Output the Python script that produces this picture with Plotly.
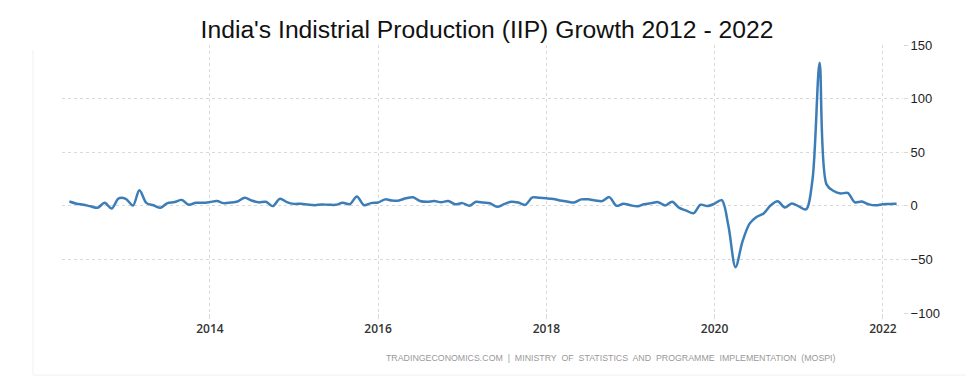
import plotly.graph_objects as go
import pandas as pd

start_month = "2012-05-01"
growth = [
    4.0, 2.0, 1.0, -0.5, -1.8, 2.8, -2.5, 7.0, 6.5, 0.3, 14.5, 2.5,      # May12-Apr13
    0.5, -1.8, 2.5, 3.5, 5.5, 1.0, 2.8, 2.8, 3.5, 4.4, 2.5, 3.0,        # May13-Apr14
    4.0, 7.5, 5.0, 3.2, 3.8, -0.3, 6.6, 3.5, 1.8, 1.9, 1.2, 0.6,        # May14-Apr15
    1.2, 1.0, 0.9, 2.8, 1.5, 8.7, 0.5, 2.5, 3.1, 6.0, 5.0, 5.0,         # May15-Apr16
    7.0, 8.0, 4.5, 3.7, 4.4, 3.4, 4.4, 1.4, 2.5, 0.0, 3.7, 3.0,         # May16-Apr17
    2.4, -1.0, 1.5, 3.8, 3.0, 0.9, 7.8, 7.5, 7.0, 6.3, 5.0, 4.0,        # May17-Apr18
    3.1, 6.0, 6.0, 5.0, 4.4, 8.1, 0.0, 2.0, 0.5, -0.5, 1.5, 2.5,        # May18-Apr19
    3.4, 0.3, 3.8, -2.0, -4.5, -7.0, 1.0, -0.3, 2.0, 5.2, -18.7, -57.3, # May19-Apr20
    -33.4, -16.6, -10.5, -7.1, 0.5, 4.2, -1.6, 2.2, -0.6, -3.4, 24.1, 133.5,  # May20-Apr21
    20.0, 13.8, 11.5, 12.0, 3.3, 4.0, 1.3, 0.4, 1.5, 1.7, 1.9,           # May21-Mar22
]
dates = pd.date_range(start_month, periods=len(growth), freq="MS")

y_ticks = [-100, -50, 0, 50, 100, 150]
x_ticks = ["2014-01-01", "2016-01-01", "2018-01-01", "2020-01-01", "2022-01-01"]
x_labels = ["2014", "2016", "2018", "2020", "2022"]

title = "India's Indistrial Production (IIP) Growth 2012 - 2022"
source = "TRADINGECONOMICS.COM  |  MINISTRY  OF  STATISTICS  AND  PROGRAMME  IMPLEMENTATION  (MOSPI)"

# plot area in figure pixels
L, T, W, H = 54, 37, 841, 268

fig = go.Figure()
fig.add_trace(go.Scatter(
    x=dates, y=growth, mode="lines",
    line=dict(color="#3c7db8", width=2.5, shape="spline", smoothing=0.9),
    hoverinfo="x+y",
))

grid = "#d9d9d9"
fig.update_layout(
    width=974, height=386,
    margin=dict(l=L, r=974 - L - W, t=T, b=386 - T - H),
    paper_bgcolor="white", plot_bgcolor="white",
    showlegend=False,
    title=dict(text=title, x=479 / 974, xanchor="center", y=1 - 21 / 386, yanchor="middle",
               font=dict(family="Liberation Sans, Arial", size=24.7, color="#111")),
    xaxis=dict(
        type="date", range=["2012-03-30", "2022-03-29"],
        tickvals=x_ticks, ticktext=x_labels,
        showgrid=True, gridcolor=grid, griddash="dot", gridwidth=1,
        ticks="outside", ticklen=5, tickcolor=grid,
        tickfont=dict(family="Open Sans", size=12, color="#333", weight=600),
        showline=False, zeroline=False,
    ),
    yaxis=dict(
        side="right", range=[-100, 150], tickvals=y_ticks,
        showgrid=True, gridcolor=grid, griddash="dot", gridwidth=1,
        ticks="outside", ticklen=4, tickcolor=grid,
        tickfont=dict(family="Liberation Sans, Arial", size=13, color="#222"),
        showline=False, zeroline=False,
    ),
    annotations=[dict(
        text=source, xref="paper", yref="paper", x=(830 - L) / W,
        xanchor="right", y=-(350 - (T + H)) / H, yanchor="middle", showarrow=False,
        font=dict(family="Liberation Sans, Arial", size=8.8, color="#999"),
    )],
    shapes=[
        dict(type="line", xref="paper", yref="paper", x0=(25 - L) / W, x1=(974 - L) / W,
             y0=-(367 - (T + H)) / H, y1=-(367 - (T + H)) / H, line=dict(color="#f0f0f0", width=1)),
        dict(type="line", xref="paper", yref="paper", x0=(25 - L) / W, x1=(25 - L) / W,
             y0=-(367 - (T + H)) / H, y1=(T + H - 42) / H, line=dict(color="#f0f0f0", width=1)),
    ],
)

fig.write_html("out.html")
